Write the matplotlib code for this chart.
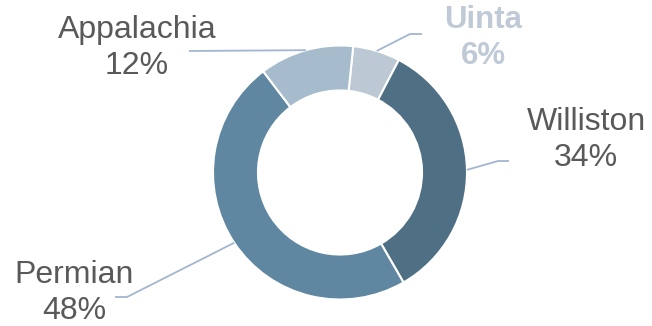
import numpy as np
import matplotlib.pyplot as plt

plt.rcParams['font.family'] = ['Liberation Sans', 'DejaVu Sans']

basins = ["Uinta", "Williston", "Permian", "Appalachia"]
shares = [6, 34, 48, 12]
colors = ["#bcc8d4", "#4f7084", "#6087a1", "#a6bccc"]

# label block centre, elbow and end of each leader line (pixel coords)
label_pos = [(483, 38), (586, 140), (74, 293), (137, 48)]
elbows = [(410, 34), (498, 161), (127, 297), (190, 51)]
line_ends = [(422, 34), (509, 161), (115, 297), (189, 51)]

CX, CY, R = 340, 172.5, 127
START = 84  # degrees, counter-clockwise from 3 o'clock
H = 326

fig = plt.figure(figsize=(6.52, 3.26), dpi=100)
ax = fig.add_axes([0, 0, 1, 1])

wedges, _ = ax.pie(shares, colors=colors, startangle=START, counterclock=False,
                   center=(CX, H - CY), radius=R,
                   wedgeprops=dict(width=R * 0.354, edgecolor='white', linewidth=1.5))

# pie() resets the limits, so set the pixel frame afterwards
ax.set_xlim(0, 652)
ax.set_ylim(0, H)
ax.set_aspect('equal')
ax.axis('off')

line_col = "#a3b6d0"
for i, w in enumerate(wedges):
    mid = np.deg2rad((w.theta1 + w.theta2) / 2)
    sx = CX + R * np.cos(mid)
    sy = (H - CY) + R * np.sin(mid)
    ex, ey = elbows[i]
    fx, fy = line_ends[i]
    ax.plot([sx, ex, fx], [sy, H - ey, H - fy], color=line_col, lw=1.3,
            solid_capstyle='butt', zorder=1)

    lx, ly = label_pos[i]
    txt = f"{basins[i]}\n{shares[i]}%"
    if basins[i] == "Uinta":
        ax.text(lx, H - ly, txt, ha='center', va='center', fontsize=22.5,
                fontweight='bold', color="#bfcad6", linespacing=1.3)
    else:
        ax.text(lx, H - ly, txt, ha='center', va='center', fontsize=23,
                color="#595959", linespacing=1.3)

fig.savefig("out.png", dpi=100)
